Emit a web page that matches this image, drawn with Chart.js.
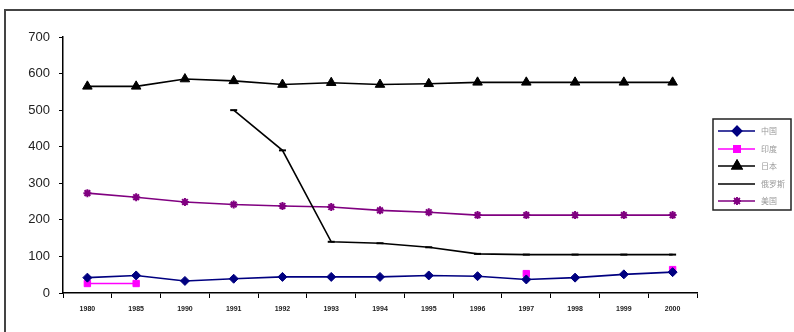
<!DOCTYPE html>
<html>
<head>
<meta charset="utf-8">
<script src="https://cdn.jsdelivr.net/npm/chart.js@4/dist/chart.umd.min.js"></script>
<style>
  html, body { margin: 0; padding: 0; background: #fff; }
  #wrap { position: relative; width: 794px; height: 332px; }
</style>
</head>
<body>
<div id="wrap"><canvas id="steelChart"></canvas></div>
<script>
////////////// data
var years = ["1980", "1985", "1990", "1991", "1992", "1993", "1994", "1995", "1996", "1997", "1998", "1999", "2000"];
var china  = [42, 48, 33, 39, 44, 44, 44, 48, 46, 37, 42, 51, 57];
var india  = [26, 26, null, null, null, null, null, null, null, 53, null, null, 64];
var japan  = [565, 565, 585, 580, 570, 575, 570, 572, 576, 576, 576, 576, 576];
var russia = [null, null, null, 500, 390, 140, 136, 125, 107, 105, 105, 105, 105];
var usa    = [273, 262, 249, 242, 238, 235, 226, 221, 213, 213, 213, 213, 213];
var yTicks = [0, 100, 200, 300, 400, 500, 600, 700];

var names  = ["中国", "印度", "日本", "俄罗斯", "美国"];
var colors = ["#000080", "#ff00ff", "#000000", "#000000", "#800080"];
var styles = ["rectRot", "rect", "triangle", "line", "star"];
var radii  = [4.5, 4.5, 5.5, 3.5, 4];

function makeDataset(i, values) {
  return {
    label: names[i],
    data: values,
    borderColor: colors[i],
    backgroundColor: colors[i],
    borderWidth: 1.6,
    pointStyle: styles[i],
    pointRadius: radii[i],
    pointBorderWidth: styles[i] == "star" || styles[i] == "line" ? 2 : 1,
    tension: 0,
    spanGaps: false
  };
}

////////////// frame + legend box (drawn by hand)
var framePlugin = {
  id: "frame",
  beforeDraw(chart) {
    var ctx = chart.ctx;
    ctx.save();
    ctx.fillStyle = "#fff";
    ctx.fillRect(0, 0, chart.width, chart.height);
    ctx.strokeStyle = "#444";
    ctx.lineWidth = 2;
    ctx.beginPath();
    ctx.moveTo(5, chart.height);
    ctx.lineTo(5, 10);
    ctx.lineTo(chart.width, 10);
    ctx.stroke();
    ctx.restore();
  },
  afterDraw(chart) {
    var ctx = chart.ctx;
    ctx.save();
    ctx.strokeStyle = "#222";
    ctx.lineWidth = 1.5;
    ctx.strokeRect(713, 119, 78, 91);

    var rowY = [131, 149, 166, 184, 201];
    chart.data.datasets.forEach(function (ds, i) {
      var y = rowY[i];
      ctx.strokeStyle = ds.borderColor;
      ctx.lineWidth = 1.6;
      ctx.beginPath();
      ctx.moveTo(718, y);
      ctx.lineTo(755, y);
      ctx.stroke();
      if (ds.pointStyle != "line") {
        Chart.helpers.drawPoint(ctx, {
          pointStyle: ds.pointStyle,
          radius: ds.pointRadius,
          borderWidth: ds.pointBorderWidth
        }, 737, y);
        ctx.fillStyle = ds.backgroundColor;
        ctx.fill();
        ctx.stroke();
      }
      ctx.fillStyle = "#999";
      ctx.font = "8px 'Noto Sans CJK SC'";
      ctx.textBaseline = "middle";
      ctx.fillText(ds.label, 761, y);
    });
    ctx.restore();
  }
};

////////////// chart
var ctxSteel = document.getElementById("steelChart").getContext("2d");

var steelChart = new Chart(ctxSteel, {
  type: "line",
  data: {
    labels: years,
    datasets: [
      makeDataset(0, china),
      makeDataset(1, india),
      makeDataset(2, japan),
      makeDataset(3, russia),
      makeDataset(4, usa)
    ]
  },
  options: {
    responsive: true,
    maintainAspectRatio: false,
    animation: false,
    layout: {
      padding: { left: 0, right: 97, top: 37, bottom: 0 }
    },
    scales: {
      x: {
        offset: true,
        grid: {
          offset: true,
          drawOnChartArea: false,
          color: "#000",
          tickLength: 5
        },
        border: { color: "#000", width: 1.5 },
        ticks: {
          color: "#222",
          padding: 7,
          maxRotation: 0,
          autoSkip: false,
          font: { family: "'Liberation Sans'", size: 7, weight: "bold" }
        },
        afterFit(scale) {
          scale.height = 332 - 293;
        }
      },
      y: {
        min: 0,
        max: 700,
        afterBuildTicks(scale) {
          scale.ticks = yTicks.map(function (v) { return { value: v }; });
        },
        grid: {
          drawOnChartArea: false,
          color: "#000",
          tickLength: 4
        },
        border: { color: "#000", width: 1.5 },
        ticks: {
          color: "#222",
          padding: 9,
          font: { family: "'Liberation Sans'", size: 13 }
        },
        afterFit(scale) {
          scale.width = 63;
        }
      }
    },
    plugins: {
      legend: { display: false },
      tooltip: { enabled: false }
    }
  },
  plugins: [framePlugin]
});
</script>
</body>
</html>
